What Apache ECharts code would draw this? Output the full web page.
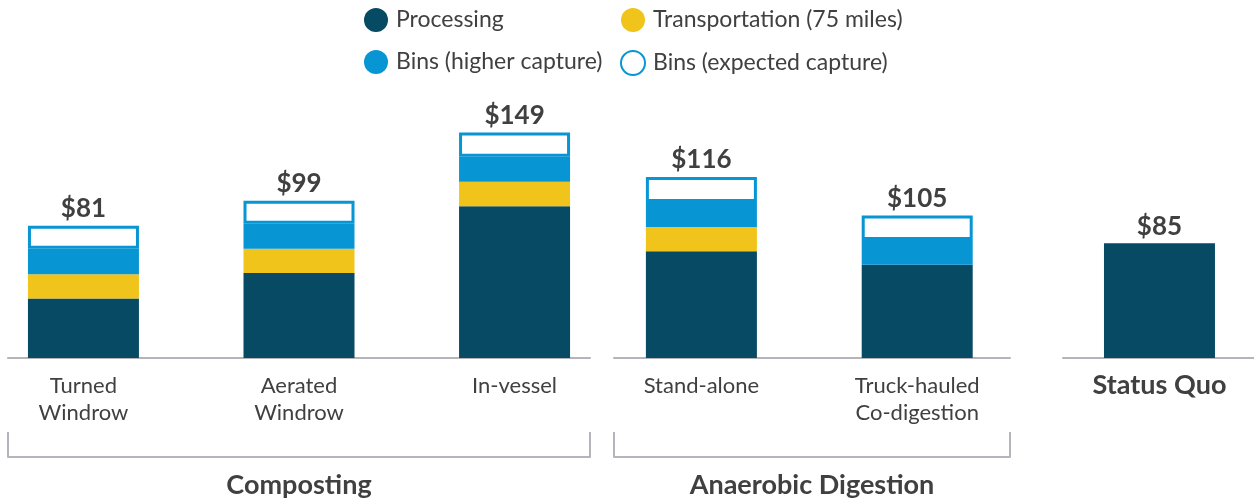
<!DOCTYPE html>
<html>
<head>
<meta charset="utf-8">
<script src="https://cdn.jsdelivr.net/npm/echarts@6/dist/echarts.min.js"></script>
<style>
html,body{margin:0;padding:0;background:#fff;}
#chart{width:1254px;height:501px;}
</style>
</head>
<body>
<div id="chart"></div>
<script>
// ---- data ----
const categories = ['Turned\nWindrow', 'Aerated\nWindrow', 'In-vessel', 'Stand-alone', 'Truck-hauled\nCo-digestion', 'Status Quo'];
const categoryGroup = [0, 0, 0, 1, 1, 2];
const groupNames = ['Composting', 'Anaerobic Digestion', ''];
const seriesNames = ['Processing', 'Transportation (75 miles)', 'Bins (higher capture)', 'Bins (expected capture)'];
const processing = [44, 63, 112.5, 79, 69, 85];
const transportation = [18, 18, 18, 18, 0, 0];
const binsHigher = [19, 18.5, 18.5, 18.5, 18.5, 0];
const binsExpected = [17, 17, 18, 18.5, 18, 0];
const totalLabels = ['$81', '$99', '$149', '$116', '$105', '$85'];

// ---- styling / layout ----
const FONT = 'Lato, "Noto Sans", sans-serif';
const TEXT = '#404040';
const AXIS = '#b4b4ba';
const colors = ['#064a63', '#f0c41b', '#0795d3', '#ffffff'];
const groupLayout = [
  { left: 8, width: 582, min: 0.65, max: 3.35 },
  { left: 614, width: 396, min: 0.595, max: 2.43 },
  { left: 1063, width: 191, min: 0.553, max: 1.438 }
];
const valueSets = [processing, transportation, binsHigher, binsExpected];

const grids = [], xAxes = [], yAxes = [], series = [];
groupLayout.forEach((gl, g) => {
  const members = categories.map((c, i) => i).filter(i => categoryGroup[i] === g);
  grids.push({ left: gl.left, width: gl.width, top: 88, bottom: 143, outerBoundsMode: 'none', containLabel: false });
  yAxes.push({ type: 'value', gridIndex: g, min: 0, max: 200, show: false });
  const isStatus = groupNames[g] === '';
  xAxes.push({
    type: 'value', gridIndex: g, min: gl.min, max: gl.max, position: 'bottom',
    axisLine: { show: true, onZero: false, lineStyle: { color: AXIS, width: 2 } },
    axisTick: { show: false }, splitLine: { show: false },
    axisLabel: {
      customValues: members.map((m, k) => k + 1),
      formatter: v => categories[members[Math.round(v) - 1]],
      fontFamily: FONT, fontSize: isStatus ? 27 : 22, fontWeight: isStatus ? 'bold' : 'normal',
      lineHeight: 27, color: TEXT, margin: 14
    }
  });
  valueSets.forEach((vals, s) => {
    series.push({
      name: seriesNames[s], type: 'bar', stack: 'g' + g,
      xAxisIndex: g, yAxisIndex: g, barWidth: 111,
      encode: { x: 1, y: 0 },
      itemStyle: s === 3 ? { color: '#ffffff', borderColor: colors[2], borderWidth: 3 } : { color: colors[s] },
      emphasis: { disabled: true },
      data: members.map((m, k) => {
        const v = vals[m];
        let top = -1;
        valueSets.forEach((vs, j) => { if (vs[m] > 0) top = j; });
        const item = { value: [v > 0 ? v : 0, k + 1] };
        if (top === s) {
          item.label = {
            show: true, position: 'top', distance: 4, formatter: totalLabels[m],
            fontFamily: FONT, fontSize: 26, fontWeight: 'bold', color: TEXT
          };
        }
        if (!(v > 0)) item.itemStyle = { borderWidth: 0, opacity: 0 };
        return item;
      })
    });
  });
});
// bracket axes under the grouped categories
groupLayout.forEach((gl, g) => {
  if (!groupNames[g]) return;
  xAxes.push({
    type: 'value', gridIndex: g, min: gl.min, max: gl.max, position: 'bottom', offset: 99,
    axisLine: { show: true, onZero: false, lineStyle: { color: AXIS, width: 2 } },
    axisTick: { show: true, inside: true, length: 25, customValues: [gl.min, gl.max], lineStyle: { color: AXIS, width: 2 } },
    axisLabel: { show: false }, splitLine: { show: false },
    name: groupNames[g], nameLocation: 'middle', nameGap: 15,
    nameTextStyle: { fontFamily: FONT, fontSize: 27, fontWeight: 'bold', color: TEXT }
  });
});

const legendText = { fontFamily: FONT, fontSize: 23, color: TEXT, padding: [0, 0, 0, 3] };
const option = {
  backgroundColor: '#ffffff',
  animation: false,
  legend: [
    { data: [seriesNames[0], seriesNames[2]], orient: 'vertical', left: 364, top: 8, padding: 0, icon: 'circle',
      itemWidth: 24, itemHeight: 24, itemGap: 18, textStyle: legendText, selectedMode: false },
    { data: [seriesNames[1], seriesNames[3]], orient: 'vertical', left: 620, top: 8, padding: 0, icon: 'circle',
      itemWidth: 24, itemHeight: 24, itemGap: 18, textStyle: legendText, selectedMode: false }
  ],
  grid: grids, xAxis: xAxes, yAxis: yAxes, series: series
};
const chart = echarts.init(document.getElementById('chart'), null, { renderer: 'canvas' });
chart.setOption(option);
</script>
</body>
</html>
